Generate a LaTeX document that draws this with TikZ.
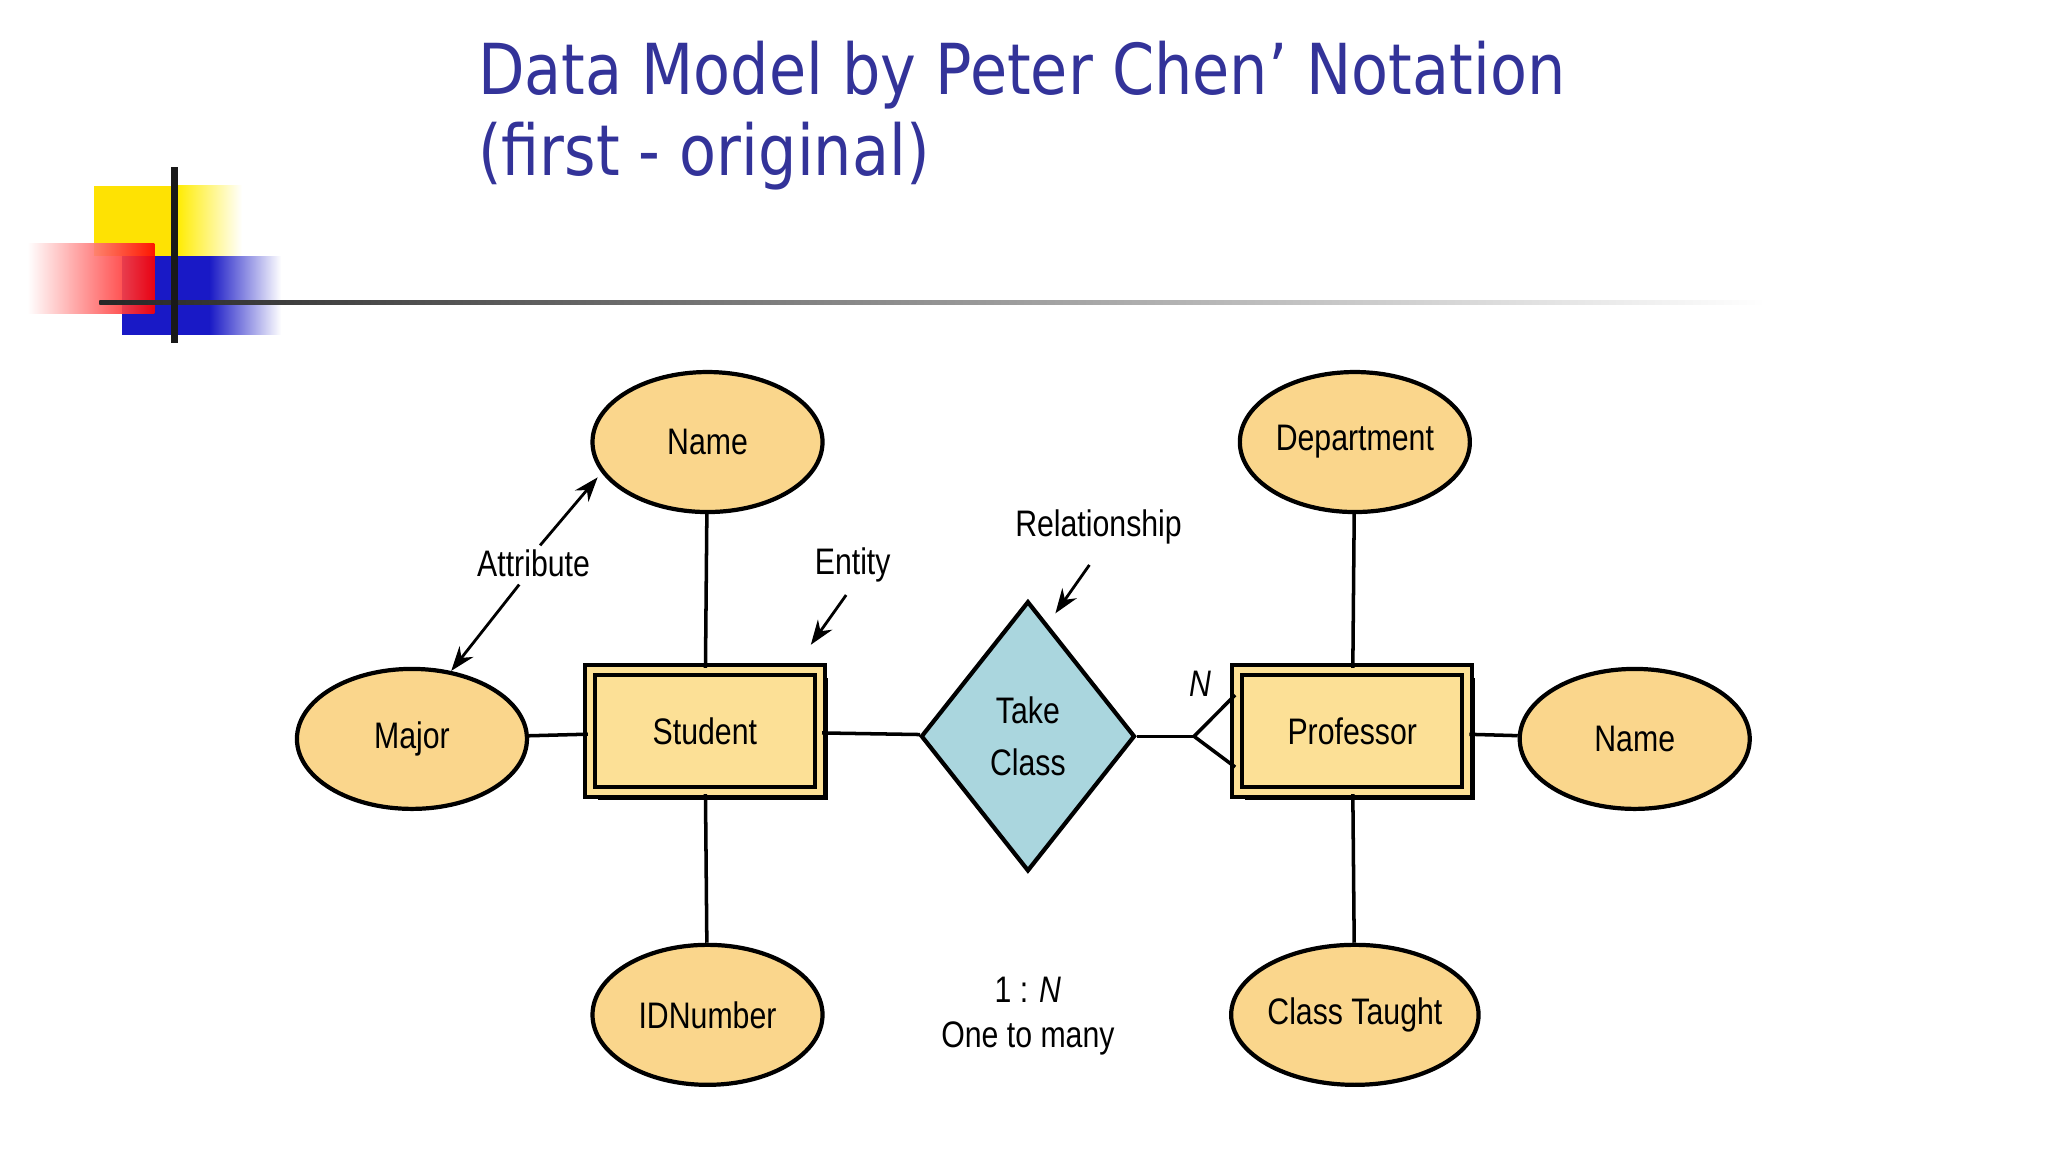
\documentclass[tikz,border=0pt]{standalone}
\usepackage{fontspec}
\setmainfont{Liberation Sans}[FakeStretch=0.82]
\newfontfamily\titlefont{DejaVu Sans}[FakeStretch=0.86]
\usetikzlibrary{shapes.geometric,shadows,arrows.meta}
\definecolor{titleblue}{RGB}{51,51,153}
\definecolor{attrfill}{RGB}{250,214,140}
\definecolor{entfill}{RGB}{252,224,150}
\definecolor{relfill}{RGB}{170,214,222}
\tikzset{
  attr/.style={ellipse, draw, very thick, fill=attrfill, minimum width=2.3cm, minimum height=1.4cm, inner sep=0pt, font=\fontsize{10.5}{13}\selectfont},
  entity/.style={rectangle, draw, very thick, fill=entfill, double=entfill, double distance=1.6pt, minimum width=2.3cm, minimum height=1.22cm, font=\fontsize{10.5}{13}\selectfont,
    drop shadow={shadow xshift=2.2pt, shadow yshift=-2.2pt, fill=black, opacity=1}},
  rel/.style={diamond, draw, very thick, fill=relfill, minimum width=2.14cm, minimum height=2.7cm, inner sep=0pt, align=center, font=\fontsize{10.5}{13}\selectfont},
  note/.style={font=\fontsize{10.5}{13}\selectfont, align=center},
  link/.style={line width=1pt},
  pointer/.style={-{Stealth[length=7pt,width=5pt]}, thick}
}
\begin{document}
\begin{tikzpicture}[x=0.01308cm,y=-0.01308cm]
\useasboundingbox (0,0) rectangle (1566,881);

% Logo
\fill[yellow!85!orange] (72,142) rectangle (135,196);
\shade[left color=yellow!85!orange, right color=white] (135,142) rectangle (185,196);
\fill[blue!75!black!90] (93,196) rectangle (160,256);
\shade[left color=blue!75!black!90, right color=white] (160,196) rectangle (215,256);
\shade[left color=white, right color=red, opacity=0.9] (21,186) rectangle (118,240);
\shade[left color=black!85, right color=white] (76,229.5) rectangle (1350,232.5);
\fill[black!90] (131,128) rectangle (136,262);

% Title
\node[anchor=base west, inner sep=0pt, text=titleblue, font=\titlefont\fontsize{20}{24}\selectfont] (title1) at (365,72) {Data Model by Peter Chen’ Notation};
\node[anchor=base west, inner sep=0pt, text=titleblue, font=\titlefont\fontsize{20}{24}\selectfont] (title2) at (365,134) {(first - original)};

% Entities and relationship
\node[entity] (student) at (539,559) {Student};
\node[entity] (professor) at (1034,559) {Professor};
\node[rel] (take) at (786,563) {Take\\[2pt]Class};

% Attributes
\node[attr] (sname) at (541,338) {Name};
\node[attr] (major) at (315,565) {Major};
\node[attr] (idnum) at (541,776) {IDNumber};
\node[attr] (dept) at (1036,338) {Department};
\node[attr] (pname) at (1250,565) {Name};
\node[attr] (taught) at (1036,776) {Class Taught};

% Connectors
\draw[link] (sname) -- (student);
\draw[link] (idnum) -- (student);
\draw[link] (major) -- (student);
\draw[link] (student) -- (take);
\draw[link] (dept) -- (professor);
\draw[link] (taught) -- (professor);
\draw[link] (professor) -- (pname);
\coordinate (fork) at (913,563);
\draw[link] (take) -- (fork);
\draw[link] ([yshift=0.36cm]professor.west) -- (fork) -- ([yshift=-0.36cm]professor.west);

% Labels
\node[note] (attrlbl) at (408,431) {Attribute};
\node[note] (entlbl) at (652,432) {Entity};
\node[note] (rellbl) at (840,403) {Relationship};
\node[note, font=\fontsize{10.5}{13}\itshape] (nlbl) at (918,523) {N};
\node[note] (card) at (786,777) {1 : \textit{N}\\One to many};
\coordinate (attrup) at (413,417);
\coordinate (attrdn) at (397,447);
\coordinate (entstart) at (647,455);
\coordinate (relstart) at (833,432);
\draw[pointer] (attrup) -- (457,365);
\draw[pointer] (attrdn) -- (345,513);
\draw[pointer] (entstart) -- (620,493);
\draw[pointer] (relstart) -- (807,469);
\end{tikzpicture}
\end{document}
